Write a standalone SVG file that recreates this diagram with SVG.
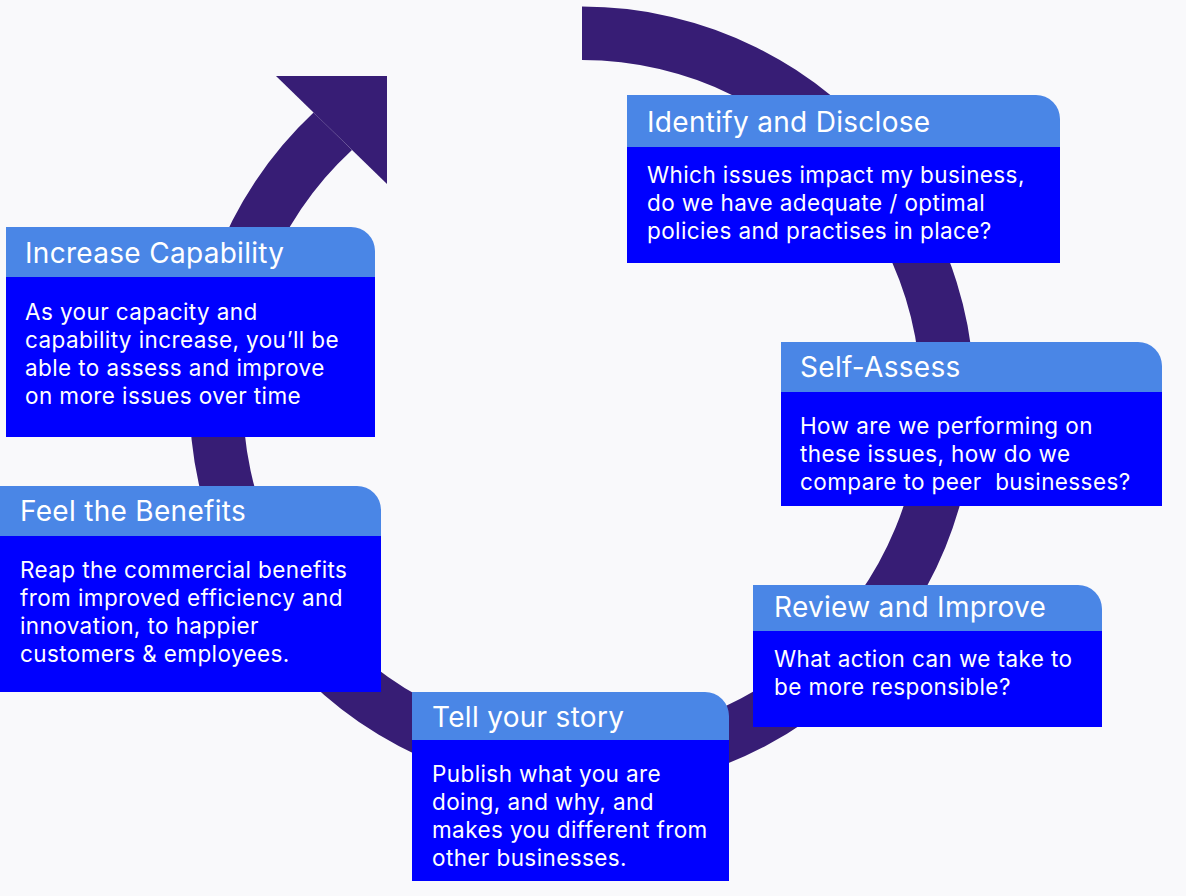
<svg xmlns="http://www.w3.org/2000/svg" width="1186" height="896" viewBox="0 0 1186 896">
<style>
.hd{fill:#4a86e6}
.bd{fill:#0000ff}
.arc{fill:#371d75}
.tt{font-family:Inter,"Noto Sans",sans-serif;font-size:28px;letter-spacing:0.3px;fill:#ffffff;font-weight:400}
.tx{font-family:Inter,"Noto Sans",sans-serif;font-size:22.5px;letter-spacing:0.4px;fill:#ffffff}
</style>
<rect width="1186" height="896" fill="#f9f9fb"/>
<g id="connectors">
<path class="arc" d="M 582 6.5 A 392.5 392.5 0 1 1 313.6 112.6 L 352 149.9 A 339 339 0 1 0 582 60 Z"/>
<polygon class="arc" points="276,76 387,76 387,184"/>
</g>
<g id="identify">
<path class="hd" d="M627,95 H1036 A24,24 0 0 1 1060,119 V147 H627 Z"/>
<rect class="bd" x="627" y="147" width="433" height="116"/>
<text class="tt" x="647" y="132">Identify and Disclose</text>
<text class="tx" x="647" y="183">Which issues impact my business,</text>
<text class="tx" x="647" y="211">do we have adequate / optimal</text>
<text class="tx" x="647" y="239">policies and practises in place?</text>
</g>
<g id="increase">
<path class="hd" d="M6,227 H351 A24,24 0 0 1 375,251 V277 H6 Z"/>
<rect class="bd" x="6" y="277" width="369" height="160"/>
<text class="tt" x="25" y="263">Increase Capability</text>
<text class="tx" x="25" y="319.5">As your capacity and</text>
<text class="tx" x="25" y="347.5">capability increase, you’ll be</text>
<text class="tx" x="25" y="375.5">able to assess and improve</text>
<text class="tx" x="25" y="403.5">on more issues over time</text>
</g>
<g id="selfassess">
<path class="hd" d="M781,342 H1138 A24,24 0 0 1 1162,366 V392 H781 Z"/>
<rect class="bd" x="781" y="392" width="381" height="114"/>
<text class="tt" x="800" y="377">Self-Assess</text>
<text class="tx" x="800" y="434">How are we performing on</text>
<text class="tx" x="800" y="462">these issues, how do we</text>
<text class="tx" x="800" y="490" xml:space="preserve">compare to peer  businesses?</text>
</g>
<g id="benefits">
<path class="hd" d="M0,486 H357 A24,24 0 0 1 381,510 V536 H0 Z"/>
<rect class="bd" x="0" y="536" width="381" height="156"/>
<text class="tt" x="20" y="521">Feel the Benefits</text>
<text class="tx" x="20" y="578">Reap the commercial benefits</text>
<text class="tx" x="20" y="606">from improved efficiency and</text>
<text class="tx" x="20" y="634">innovation, to happier</text>
<text class="tx" x="20" y="662">customers &amp; employees.</text>
</g>
<g id="review">
<path class="hd" d="M753,585 H1078 A24,24 0 0 1 1102,609 V631 H753 Z"/>
<rect class="bd" x="753" y="631" width="349" height="96"/>
<text class="tt" x="774" y="617">Review and Improve</text>
<text class="tx" x="774" y="667">What action can we take to</text>
<text class="tx" x="774" y="695">be more responsible?</text>
</g>
<g id="story">
<path class="hd" d="M412,692 H705 A24,24 0 0 1 729,716 V740 H412 Z"/>
<rect class="bd" x="412" y="740" width="317" height="141"/>
<text class="tt" x="432" y="727">Tell your story</text>
<text class="tx" x="432" y="781.5">Publish what you are</text>
<text class="tx" x="432" y="809.5">doing, and why, and</text>
<text class="tx" x="432" y="837.5">makes you different from</text>
<text class="tx" x="432" y="865.5">other businesses.</text>
</g>
</svg>
